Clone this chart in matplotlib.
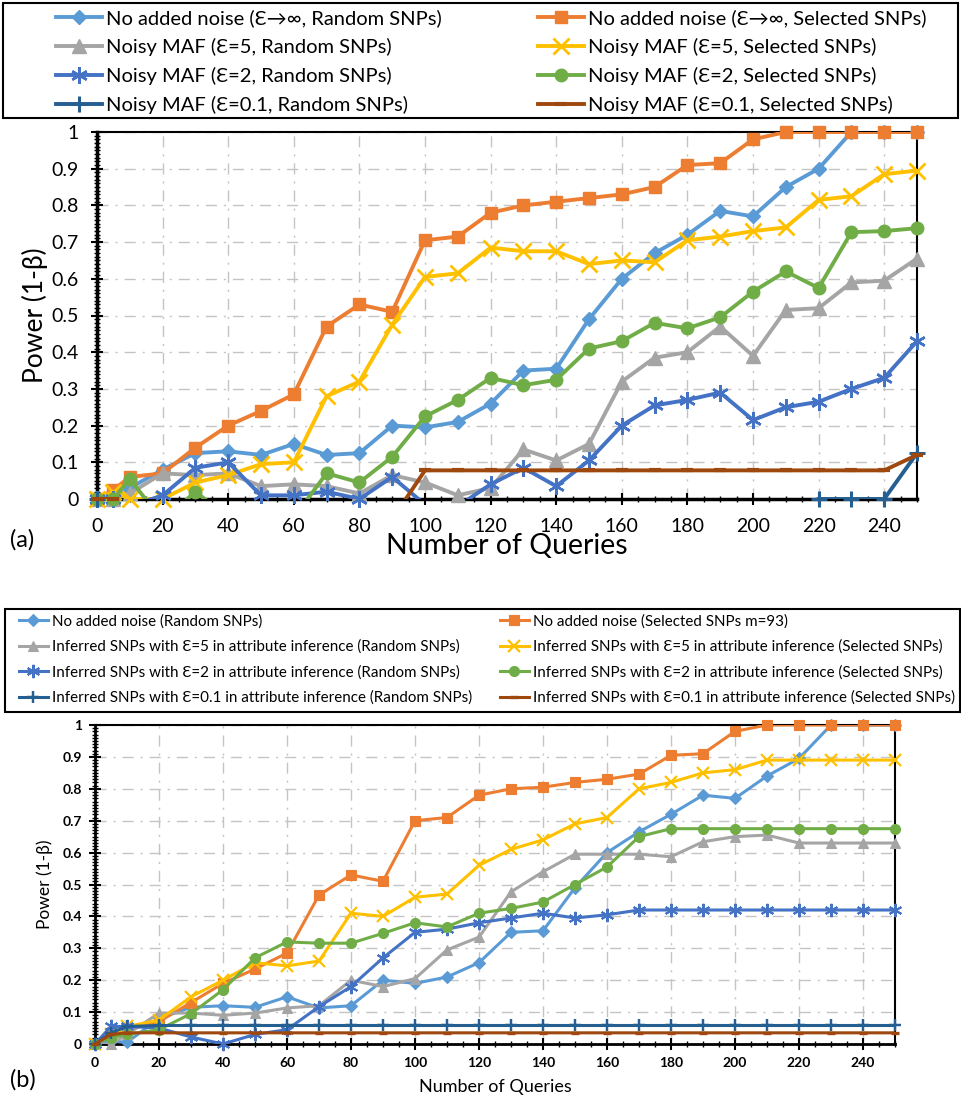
import numpy as np
import matplotlib
matplotlib.use("Agg")
import matplotlib.pyplot as plt
from matplotlib.lines import Line2D
from matplotlib.patches import Rectangle
from matplotlib.ticker import MultipleLocator

plt.rcParams['font.family'] = ['Lato', 'DejaVu Sans']

queries = [0, 5, 10, 20, 30, 40, 50, 60, 70, 80, 90, 100, 110, 120, 130,
           140, 150, 160, 170, 180, 190, 200, 210, 220, 230, 240, 250]

# ---- panel (a): noisy MAF ----
a_rand_inf = [0, 0, 0.03, 0.08, 0.125, 0.13, 0.12, 0.15, 0.12, 0.125, 0.20, 0.195, 0.21, 0.26,
              0.35, 0.355, 0.49, 0.60, 0.67, 0.72, 0.785, 0.77, 0.85, 0.90, 1.0, 1.0, 1.0]
a_sel_inf = [0, 0.025, 0.06, 0.07, 0.14, 0.20, 0.24, 0.285, 0.47, 0.53, 0.51, 0.705, 0.715, 0.78,
             0.80, 0.81, 0.82, 0.83, 0.85, 0.91, 0.915, 0.98, 1.0, 1.0, 1.0, 1.0, 1.0]
a_rand_e5 = [0, 0, 0.015, 0.07, 0.065, 0.07, 0.035, 0.04, 0.035, 0.015, 0.065, 0.045, 0.01, 0.03,
             0.135, 0.105, 0.15, 0.32, 0.385, 0.40, 0.47, 0.39, 0.515, 0.52, 0.59, 0.595, 0.655]
a_sel_e5 = [0, 0.02, 0.0, 0.0, 0.045, 0.065, 0.095, 0.10, 0.28, 0.32, 0.475, 0.605, 0.615, 0.685,
            0.675, 0.675, 0.64, 0.65, 0.645, 0.705, 0.715, 0.73, 0.74, 0.815, 0.825, 0.885, 0.895]
a_rand_e2 = [0, 0, -0.02, 0.01, 0.085, 0.10, 0.01, 0.01, 0.02, 0.0, 0.06, -0.015, -0.02, 0.04,
             0.085, 0.035, 0.105, 0.20, 0.255, 0.27, 0.29, 0.215, 0.25, 0.265, 0.30, 0.33, 0.43]
a_sel_e2 = [0, 0, 0.055, -0.06, 0.02, -0.05, -0.05, -0.05, 0.07, 0.045, 0.115, 0.225, 0.27, 0.33,
            0.31, 0.325, 0.41, 0.43, 0.48, 0.465, 0.495, 0.565, 0.62, 0.575, 0.727, 0.73, 0.738]
a_rand_e01 = [0, None, None, None, None, None, None, None, None, None, None, None, None, None,
              None, None, None, None, None, None, None, None, None, 0, 0, 0, 0.125]
a_sel_e01 = [0, 0, None, None, None, None, None, None, None, None, -0.055, 0.078, 0.078, 0.078,
             0.078, 0.078, 0.078, 0.078, 0.078, 0.078, 0.078, 0.078, 0.078, 0.078, 0.078, 0.078, 0.12]

# ---- panel (b): inferred SNPs ----
b_rand_inf = [0, 0.01, 0.005, 0.08, 0.115, 0.12, 0.115, 0.148, 0.113, 0.12, 0.20, 0.19, 0.21, 0.255,
              0.35, 0.355, 0.49, 0.60, 0.665, 0.72, 0.78, 0.77, 0.84, 0.895, 1.0, 1.0, 1.0]
b_sel_inf = [0, 0.03, 0.05, 0.07, 0.13, 0.19, 0.235, 0.285, 0.467, 0.53, 0.51, 0.70, 0.71, 0.78,
             0.80, 0.805, 0.82, 0.83, 0.846, 0.905, 0.91, 0.98, 1.0, 1.0, 1.0, 1.0, 1.0]
b_rand_e5 = [0, 0, 0.03, 0.097, 0.097, 0.09, 0.097, 0.113, 0.12, 0.20, 0.18, 0.205, 0.295, 0.335,
             0.477, 0.54, 0.595, 0.595, 0.595, 0.587, 0.634, 0.65, 0.655, 0.63, 0.63, 0.63, 0.63]
b_sel_e5 = [0, 0.03, 0.055, 0.075, 0.148, 0.20, 0.255, 0.245, 0.26, 0.41, 0.40, 0.46, 0.47, 0.56,
            0.61, 0.64, 0.69, 0.71, 0.80, 0.82, 0.85, 0.86, 0.89, 0.89, 0.89, 0.89, 0.89]
b_rand_e2 = [0, 0.055, 0.055, 0.05, 0.022, 0.0, 0.03, 0.045, 0.117, 0.18, 0.27, 0.35, 0.36, 0.38,
             0.395, 0.41, 0.395, 0.405, 0.42, 0.42, 0.42, 0.42, 0.42, 0.42, 0.42, 0.42, 0.42]
b_sel_e2 = [0, 0.02, 0.03, 0.045, 0.095, 0.17, 0.27, 0.32, 0.316, 0.316, 0.347, 0.38, 0.367, 0.41,
            0.425, 0.445, 0.50, 0.555, 0.65, 0.675, 0.675, 0.675, 0.675, 0.675, 0.675, 0.675, 0.675]
b_rand_e01 = [0, 0.035, 0.055, 0.058, 0.058, 0.058, 0.058, 0.058, 0.058, 0.058, 0.058, 0.058, 0.058, 0.058,
              0.058, 0.058, 0.058, 0.058, 0.058, 0.058, 0.058, 0.058, 0.058, 0.058, 0.058, 0.058, 0.058]
b_sel_e01 = [0, 0.03, 0.035, 0.035, 0.035, 0.035, 0.035, 0.035, 0.035, 0.035, 0.035, 0.035, 0.035, 0.035,
             0.035, 0.035, 0.035, 0.035, 0.035, 0.035, 0.035, 0.035, 0.035, 0.035, 0.035, 0.035, 0.035]

labels_a = ['No added noise (Ɛ→∞, Random SNPs)', 'No added noise (Ɛ→∞, Selected SNPs)',
            'Noisy MAF (Ɛ=5, Random SNPs)', 'Noisy MAF (Ɛ=5, Selected SNPs)',
            'Noisy MAF (Ɛ=2, Random SNPs)', 'Noisy MAF (Ɛ=2, Selected SNPs)',
            'Noisy MAF (Ɛ=0.1, Random SNPs)', 'Noisy MAF (Ɛ=0.1, Selected SNPs)']
labels_b = ['No added noise (Random SNPs)', 'No added noise (Selected SNPs m=93)',
            'Inferred SNPs with Ɛ=5 in attribute inference (Random SNPs)',
            'Inferred SNPs with Ɛ=5 in attribute inference (Selected SNPs)',
            'Inferred SNPs with Ɛ=2 in attribute inference (Random SNPs)',
            'Inferred SNPs with Ɛ=2 in attribute inference (Selected SNPs)',
            'Inferred SNPs with Ɛ=0.1 in attribute inference (Random SNPs)',
            'Inferred SNPs with Ɛ=0.1 in attribute inference (Selected SNPs)']

xtick_vals = [0, 20, 40, 60, 80, 100, 120, 140, 160, 180, 200, 220, 240]
xtick_labels = ['0', '20', '40', '60', '80', '100', '120', '140', '160', '180', '200', '220', '240']
ytick_vals = [0, 0.1, 0.2, 0.3, 0.4, 0.5, 0.6, 0.7, 0.8, 0.9, 1.0]
ytick_labels = ['0', '0.1', '0.2', '0.3', '0.4', '0.5', '0.6', '0.7', '0.8', '0.9', '1']

colors = ['#5B9BD5', '#ED7D31', '#A5A5A5', '#FFC000', '#4472C4', '#70AD47', '#255E91', '#9E480E']
markers = ['D', 's', '^', 'x', (6, 2, 0), 'o', '+', '_']
msizes = [7.5, 9, 9.5, 11, 12, 9, 11, 8]
mwidths = [1, 1, 1, 2, 1.8, 1, 2.2, 3]

W, H = 962, 1102


def fx(px):
    return px / W


def fy(py):
    return 1 - py / H


def draw_series(ax, series, lw, scale):
    x = np.array(queries, dtype=float)
    for i, vals in enumerate(series):
        y = np.array([np.nan if v is None else v for v in vals], dtype=float)
        ax.plot(x, y, color=colors[i], lw=lw, zorder=3 + i * 0.1, solid_joinstyle='round')
        keep = np.nan_to_num(y, nan=-1) >= 0
        ax.plot(x[keep], y[keep], ls='none', marker=markers[i], ms=msizes[i] * scale,
                color=colors[i], mec=colors[i], mew=mwidths[i] * scale,
                clip_on=False, zorder=3.05 + i * 0.1)


def style_axes(ax, tsize, tweight, spine_w, pad):
    ax.set_xlim(0, 250)
    ax.set_ylim(0, 1)
    ax.set_xticks(xtick_vals)
    ax.set_xticklabels(xtick_labels, fontsize=tsize, fontweight=tweight)
    ax.set_yticks(ytick_vals)
    ax.set_yticklabels(ytick_labels, fontsize=tsize, fontweight=tweight)
    ax.xaxis.set_minor_locator(MultipleLocator(5))
    ax.yaxis.set_minor_locator(MultipleLocator(0.01))
    ax.tick_params(which='major', direction='inout', length=9, width=1.5, pad=pad)
    ax.tick_params(which='minor', direction='inout', length=5, width=1)
    ax.grid(which='major', color='#C4C4C4', lw=1, ls=(0, (8, 5, 1.5, 5)))
    ax.set_axisbelow(True)
    for s in ['left', 'bottom']:
        ax.spines[s].set_linewidth(spine_w)
    for s in ['top', 'right']:
        ax.spines[s].set_linewidth(1.5)


def add_legend(fig, labels, box, col_x, top, lw, scale, fsize, hlen, hpad, lspace):
    x0, y0, x1, y1 = box
    fig.patches.append(Rectangle((fx(x0), fy(y1)), fx(x1 - x0), (y1 - y0) / H,
                                 transform=fig.transFigure, fill=False, ec='black', lw=1.5))
    handles = [Line2D([], [], color=colors[i], lw=lw, marker=markers[i], ms=msizes[i] * scale,
                      mec=colors[i], mew=mwidths[i] * scale) for i in range(8)]
    for c, cx in enumerate(col_x):
        idx = [c, c + 2, c + 4, c + 6]
        fig.legend([handles[i] for i in idx], [labels[i] for i in idx], loc='upper left',
                   bbox_to_anchor=(fx(cx), fy(top)), frameon=False, borderpad=0,
                   borderaxespad=0, handlelength=hlen, handletextpad=hpad, labelspacing=lspace,
                   numpoints=1, prop={'family': ['Lato', 'DejaVu Sans'], 'size': fsize})


fig = plt.figure(figsize=(W / 100, H / 100), dpi=100)

ax_a = fig.add_axes([fx(97), fy(499), fx(820), 367 / H])
draw_series(ax_a, [a_rand_inf, a_sel_inf, a_rand_e5, a_sel_e5,
                   a_rand_e2, a_sel_e2, a_rand_e01, a_sel_e01], 2.8, 1.0)
style_axes(ax_a, 14, 'normal', 2.5, 9)
ax_a.set_ylabel('Power (1-β)', fontsize=19, va='center')
ax_a.yaxis.set_label_coords((35 - 97) / 820, 0.5)
ax_a.set_xlabel('Number of Queries', fontsize=20.5, va='center')
ax_a.xaxis.set_label_coords(0.5, -(546 - 499) / 367)

ax_b = fig.add_axes([fx(95), fy(1044), fx(800), 319 / H])
draw_series(ax_b, [b_rand_inf, b_sel_inf, b_rand_e5, b_sel_e5,
                   b_rand_e2, b_sel_e2, b_rand_e01, b_sel_e01], 2.2, 0.8)
style_axes(ax_b, 10, 'bold', 2.0, 5)
ax_b.set_ylabel('Power (1-β)', fontsize=12.5, va='center')
ax_b.yaxis.set_label_coords((45 - 95) / 800, 0.5)
ax_b.set_xlabel('Number of Queries', fontsize=13, va='center')
ax_b.xaxis.set_label_coords(0.5, -(1087 - 1044) / 319)

add_legend(fig, labels_a, (3, 3, 958, 118), [56, 538], 9, 2.8, 1.0, 14.5, 2.3, 0.2, 0.55)
add_legend(fig, labels_b, (5, 609, 960, 712), [19, 500], 614, 2.2, 0.8, 10.9, 1.9, 0.3, 0.74)

fig.text(fx(10), fy(540), '(a)', fontsize=17, va='center', ha='left')
fig.text(fx(10), fy(1080), '(b)', fontsize=17, va='center', ha='left')

fig.savefig('out.png', dpi=100)
